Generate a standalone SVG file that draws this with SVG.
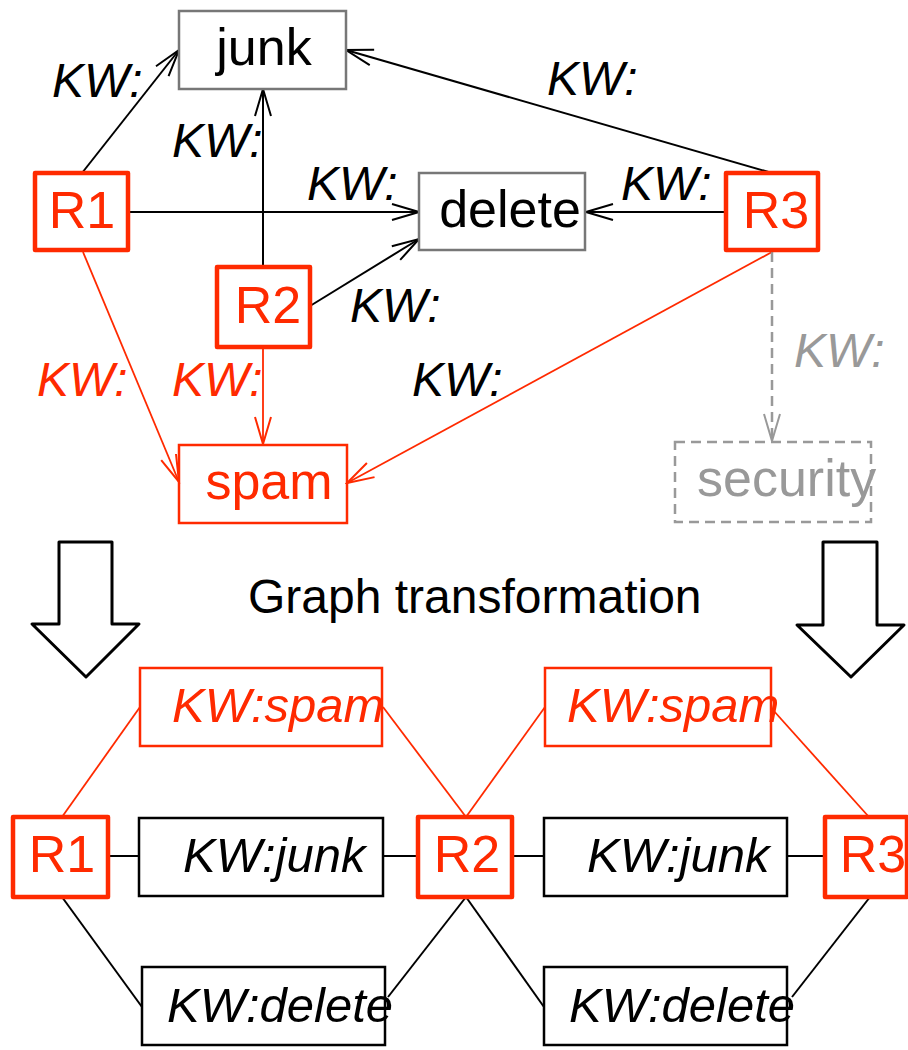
<svg xmlns="http://www.w3.org/2000/svg" width="908" height="1050" viewBox="0 0 908 1050">
<style>
text{font-family:"Liberation Sans",Arial,sans-serif;}
.node{font-size:52px;}
.lbl{font-size:48px;font-style:italic;}
.kw{font-size:49px;font-style:italic;}
.rbox{fill:#fff;stroke:#ff2a00;stroke-width:4.5;stroke-linejoin:round;}
.rtxt{fill:#ff2a00;text-anchor:middle;}
.gbox{fill:#fff;stroke:#777;stroke-width:2.5;}
.bbox{fill:none;stroke:#000;stroke-width:2.5;}
.sbox{fill:none;stroke:#ff2a00;stroke-width:2.5;}
.blk{stroke:#000;stroke-width:2;fill:none;}
.red{stroke:#ff2a00;stroke-width:1.8;fill:none;}
.gry{stroke:#999;stroke-width:2.5;fill:none;stroke-dasharray:10 6;}
</style>
<defs>
<marker id="ab" viewBox="-30 -10 32 20" markerWidth="32" markerHeight="20" refX="0" refY="0" orient="auto" markerUnits="userSpaceOnUse">
<path d="M-27,-8 L0,0 L-27,8" fill="none" stroke="#000" stroke-width="2"/>
</marker>
<marker id="ar" viewBox="-30 -10 32 20" markerWidth="32" markerHeight="20" refX="0" refY="0" orient="auto" markerUnits="userSpaceOnUse">
<path d="M-27,-8 L0,0 L-27,8" fill="none" stroke="#ff2a00" stroke-width="2"/>
</marker>
<marker id="ag" viewBox="-30 -10 32 20" markerWidth="32" markerHeight="20" refX="0" refY="0" orient="auto" markerUnits="userSpaceOnUse">
<path d="M-27,-8 L0,0 L-27,8" fill="none" stroke="#999" stroke-width="2"/>
</marker>
</defs>

<g id="connectors">
<line class="blk" x1="82" y1="173" x2="179" y2="50" marker-end="url(#ab)"/>
<line class="blk" x1="772" y1="173" x2="346" y2="50" stroke-width="1.6" marker-end="url(#ab)"/>
<line class="blk" x1="263" y1="267" x2="263" y2="89" marker-end="url(#ab)"/>
<line class="blk" x1="128" y1="212" x2="419" y2="212" marker-end="url(#ab)"/>
<line class="blk" x1="726" y1="212" x2="586" y2="212" marker-end="url(#ab)"/>
<line class="blk" x1="310" y1="306" x2="419" y2="239" marker-end="url(#ab)"/>
<line class="red" x1="83" y1="252" x2="179" y2="482" marker-end="url(#ar)"/>
<line class="red" x1="263" y1="349" x2="263" y2="444" marker-end="url(#ar)"/>
<line class="red" x1="772" y1="252" x2="347" y2="483" marker-end="url(#ar)"/>
<line class="gry" x1="772" y1="252" x2="772" y2="441" marker-end="url(#ag)"/>

<line class="blk" x1="108" y1="856" x2="139" y2="856" stroke-width="2.5"/>
<line class="blk" x1="383" y1="856" x2="418" y2="856" stroke-width="2.5"/>
<line class="blk" x1="512" y1="856" x2="544" y2="856" stroke-width="2.5"/>
<line class="blk" x1="787" y1="856" x2="824" y2="856" stroke-width="2.5"/>
<line class="red" x1="62" y1="817" x2="140" y2="707"/>
<line class="red" x1="383" y1="707" x2="466" y2="817"/>
<line class="red" x1="466" y1="817" x2="545" y2="707"/>
<line class="red" x1="773" y1="710" x2="869" y2="817"/>
<line class="blk" x1="62" y1="897" x2="142" y2="1007" stroke-width="2.5"/>
<line class="blk" x1="388" y1="997" x2="466" y2="897"/>
<line class="blk" x1="466" y1="897" x2="544" y2="1007"/>
<line class="blk" x1="792" y1="997" x2="870" y2="897"/>
</g>

<g id="labels">
<text class="lbl" x="52" y="97">KW:</text>
<text class="lbl" x="172" y="157">KW:</text>
<text class="lbl" x="307" y="200">KW:</text>
<text class="lbl" x="547" y="95">KW:</text>
<text class="lbl" x="621" y="200">KW:</text>
<text class="lbl" x="350" y="322">KW:</text>
<text class="lbl" x="37" y="396" fill="#ff2a00">KW:</text>
<text class="lbl" x="172" y="396" fill="#ff2a00">KW:</text>
<text class="lbl" x="412" y="396">KW:</text>
<text class="lbl" x="794" y="367" fill="#999">KW:</text>
</g>

<g id="junk"><rect class="gbox" x="179" y="11" width="167" height="78"/><text class="node" x="264" y="65" text-anchor="middle">junk</text></g>
<g id="delete"><rect class="gbox" x="419" y="173" width="166" height="77"/><text class="node" x="510" y="227" text-anchor="middle">delete</text></g>
<g id="R1"><rect class="rbox" x="35" y="173" width="93" height="77"/><text class="node rtxt" x="82" y="228">R1</text></g>
<g id="R2"><rect class="rbox" x="217" y="267" width="93" height="80"/><text class="node rtxt" x="268" y="323">R2</text></g>
<g id="R3"><rect class="rbox" x="726" y="173" width="92" height="77"/><text class="node rtxt" x="776" y="228">R3</text></g>
<g id="spam"><rect class="sbox" x="179" y="445" width="168" height="78" fill="#fff"/><text class="node" x="269" y="499" text-anchor="middle" fill="#ff2a00">spam</text></g>
<g id="security"><rect class="gry" x="675" y="442" width="196" height="80" stroke-dasharray="12 7"/><text class="node" x="697" y="496" fill="#999">security</text></g>

<g id="arrow-left"><path d="M59,542 L112,542 L112,624 L139,624 L86,677 L32,624 L59,624 Z" fill="#fff" stroke="#000" stroke-width="3" stroke-linejoin="round"/></g>
<g id="arrow-right"><path d="M823,542 L877,542 L877,625 L904,625 L851,677 L797,625 L823,625 Z" fill="#fff" stroke="#000" stroke-width="3" stroke-linejoin="round"/></g>
<g id="title"><text x="248" y="613" font-size="48">Graph transformation</text></g>

<g id="spam-left"><rect class="sbox" x="140" y="668" width="242" height="78"/><text class="kw" x="172" y="722" fill="#ff2a00">KW:spam</text></g>
<g id="spam-right"><rect class="sbox" x="545" y="668" width="226" height="78"/><text class="kw" x="567" y="722" fill="#ff2a00">KW:spam</text></g>
<g id="R1b"><rect class="rbox" x="13" y="817" width="95" height="80"/><text class="node rtxt" x="62" y="872">R1</text></g>
<g id="R2b"><rect class="rbox" x="418" y="817" width="94" height="80"/><text class="node rtxt" x="467" y="872">R2</text></g>
<g id="R3b"><rect class="rbox" x="825" y="817" width="82" height="80"/><text class="node rtxt" x="873" y="872">R3</text></g>
<g id="junk-left"><rect class="bbox" x="139" y="818" width="244" height="78"/><text class="kw" x="183" y="872">KW:junk</text></g>
<g id="junk-right"><rect class="bbox" x="544" y="818" width="243" height="78"/><text class="kw" x="587" y="872">KW:junk</text></g>
<g id="delete-left"><rect class="bbox" x="142" y="967" width="243" height="78"/><text class="kw" x="167" y="1022">KW:delete</text></g>
<g id="delete-right"><rect class="bbox" x="544" y="967" width="243" height="78"/><text class="kw" x="569" y="1022">KW:delete</text></g>
</svg>
